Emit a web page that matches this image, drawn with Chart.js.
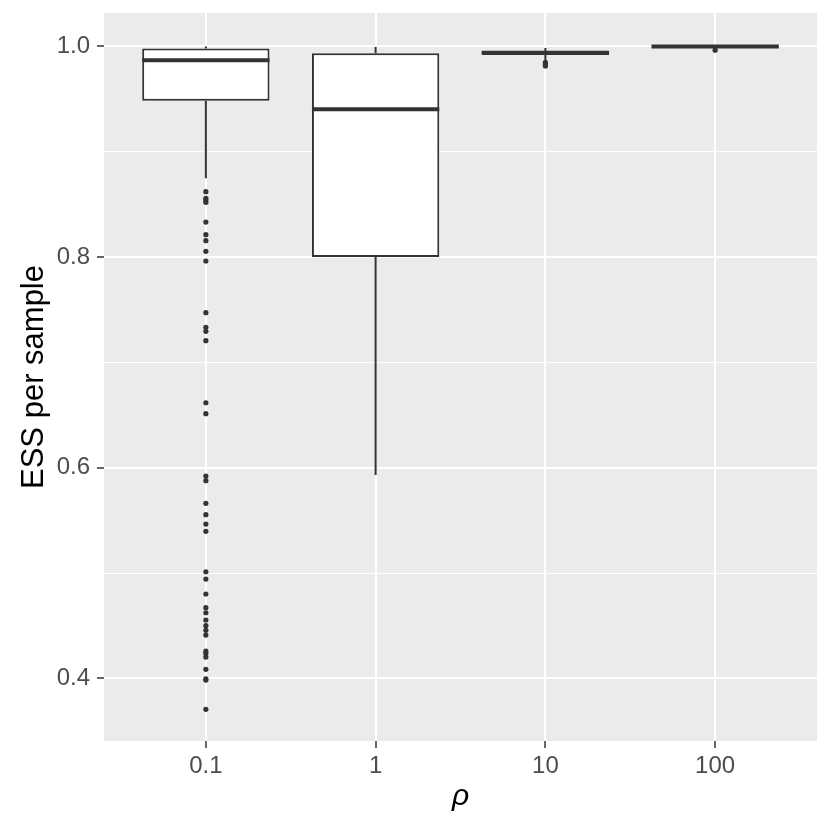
<!DOCTYPE html>
<html><head><meta charset="utf-8">
<script src="https://cdn.jsdelivr.net/npm/chart.js@4"></script>
<style>html,body{margin:0;padding:0;background:#fff}#wrap{width:830px;height:830px}</style>
</head><body><div id="wrap"><canvas id="c"></canvas></div>
<script>
// ---- data ----
const categories = ['0.1', '1', '10', '100'];
const whiskerLow  = [0.8748, 0.5930, 0.9870, 0.9990];
const q1          = [0.9485, 0.8000, 0.9919, 0.9997];
const medians     = [0.9869, 0.9404, 0.9940, 1.0000];
const q3          = [0.9980, 0.9935, 0.9957, 1.0000];
const whiskerHigh = [1.0000, 0.9995, 0.9985, 1.0000];
const outliers01  = [0.8621, 0.8558, 0.8542, 0.8520, 0.8333, 0.8213, 0.8156, 0.8055, 0.7963,
                     0.7472, 0.7333, 0.7295, 0.7206, 0.6617, 0.6513, 0.5921, 0.5877, 0.5662,
                     0.5554, 0.5465, 0.5396, 0.5012, 0.4943, 0.4801, 0.4671, 0.4623, 0.4554,
                     0.4500, 0.4456, 0.4411, 0.4259, 0.4237, 0.4202, 0.4086, 0.3996, 0.3984, 0.3706];
const outliers1   = [];
const outliers10  = [0.9850, 0.9830, 0.9815];
const outliers100 = [0.9965];
const yTickValues = [0.4, 0.5, 0.6, 0.7, 0.8, 0.9, 1.0];
const yTickLabels = ['0.4', '', '0.6', '', '0.8', '', '1.0'];
const yMin = 0.3405, yMax = 1.0318;
const xMin = -0.6, xMax = 3.6;

// ---- build datasets ----
const boxData = categories.map((c, i) => ({x: i, y: [q1[i], q3[i]]}));
const outlierGroups = [outliers01, outliers1, outliers10, outliers100];
const outlierData = [];
outlierGroups.forEach((g, i) => g.forEach(v => outlierData.push({x: i, y: v})));

const INK = '#333333';
const FONT = "'Liberation Sans', Arial, Helvetica, sans-serif";

const panelBg = {
  id: 'panelBg',
  beforeDraw(chart) {
    const {ctx, chartArea: a} = chart;
    ctx.save();
    ctx.fillStyle = '#EBEBEB';
    ctx.fillRect(a.left, a.top, a.right - a.left, a.bottom - a.top);
    ctx.restore();
  }
};

const boxParts = {
  id: 'boxParts',
  beforeDatasetsDraw(chart) {
    const {ctx} = chart, xs = chart.scales.x, ys = chart.scales.y;
    ctx.save();
    ctx.strokeStyle = INK;
    ctx.lineWidth = 2;
    categories.forEach((c, i) => {
      const x = xs.getPixelForValue(i);
      ctx.beginPath();
      ctx.moveTo(x, ys.getPixelForValue(whiskerHigh[i]));
      ctx.lineTo(x, ys.getPixelForValue(q3[i]));
      ctx.moveTo(x, ys.getPixelForValue(q1[i]));
      ctx.lineTo(x, ys.getPixelForValue(whiskerLow[i]));
      ctx.stroke();
    });
    ctx.restore();
  },
  afterDatasetDraw(chart, args) {
    if (args.index !== 0) return;
    const {ctx} = chart, ys = chart.scales.y;
    const meta = chart.getDatasetMeta(0);
    ctx.save();
    ctx.strokeStyle = INK;
    ctx.lineWidth = 4;
    meta.data.forEach((bar, i) => {
      const w = bar.width;
      const y = ys.getPixelForValue(medians[i]);
      ctx.beginPath();
      ctx.moveTo(bar.x - w / 2, y);
      ctx.lineTo(bar.x + w / 2, y);
      ctx.stroke();
    });
    ctx.restore();
  }
};

new Chart(document.getElementById('c'), {
  type: 'bar',
  data: {
    datasets: [
      {
        type: 'bar',
        data: boxData,
        backgroundColor: '#FFFFFF',
        borderColor: INK,
        borderWidth: 2,
        borderSkipped: false,
        categoryPercentage: 1,
        barPercentage: 0.75,
        order: 2
      },
      {
        type: 'scatter',
        data: outlierData,
        pointRadius: 2.6,
        pointBackgroundColor: INK,
        pointBorderWidth: 0,
        order: 1
      }
    ]
  },
  options: {
    responsive: true,
    maintainAspectRatio: false,
    animation: false,
    events: [],
    layout: {padding: {top: 13, right: 13, left: 0, bottom: 0}},
    plugins: {legend: {display: false}, tooltip: {enabled: false}},
    scales: {
      x: {
        type: 'linear',
        min: xMin, max: xMax,
        offset: false,
        afterBuildTicks: s => { s.ticks = categories.map((c, i) => ({value: i})); },
        afterFit: s => { s.height = 89; s.paddingLeft = 0; s.paddingRight = 0; },
        grid: {
          offset: false,
          color: '#FFFFFF',
          lineWidth: 2,
          drawTicks: true,
          tickLength: 7,
          tickColor: INK,
          tickWidth: 1.5
        },
        border: {display: false},
        ticks: {
          padding: 4,
          color: '#4D4D4D',
          font: {family: FONT, size: 24},
          maxRotation: 0,
          autoSkip: false,
          callback: v => categories[v]
        },
        title: {
          display: true,
          text: 'ρ',
          color: '#000000',
          font: {family: FONT, size: 30, style: 'italic'},
          padding: {top: 15, bottom: 15}
        }
      },
      y: {
        type: 'linear',
        min: yMin, max: yMax,
        beginAtZero: false,
        afterBuildTicks: s => { s.ticks = yTickValues.map(v => ({value: v})); },
        afterFit: s => { s.width = 104; s.paddingTop = 0; s.paddingBottom = 0; },
        grid: {
          color: '#FFFFFF',
          lineWidth: c => (yTickLabels[c.index] ? 2 : 1),
          drawTicks: true,
          tickLength: 7,
          tickColor: c => (yTickLabels[c.index] ? INK : 'rgba(0,0,0,0)'),
          tickWidth: 1.5
        },
        border: {display: false},
        ticks: {
          padding: 7,
          color: '#4D4D4D',
          font: {family: FONT, size: 24},
          autoSkip: false,
          callback: (v, i) => yTickLabels[i]
        },
        title: {
          display: true,
          text: 'ESS per sample',
          color: '#000000',
          font: {family: FONT, size: 31},
          padding: {top: 16, bottom: 16}
        }
      }
    }
  },
  plugins: [panelBg, boxParts]
});
</script>
</body></html>
